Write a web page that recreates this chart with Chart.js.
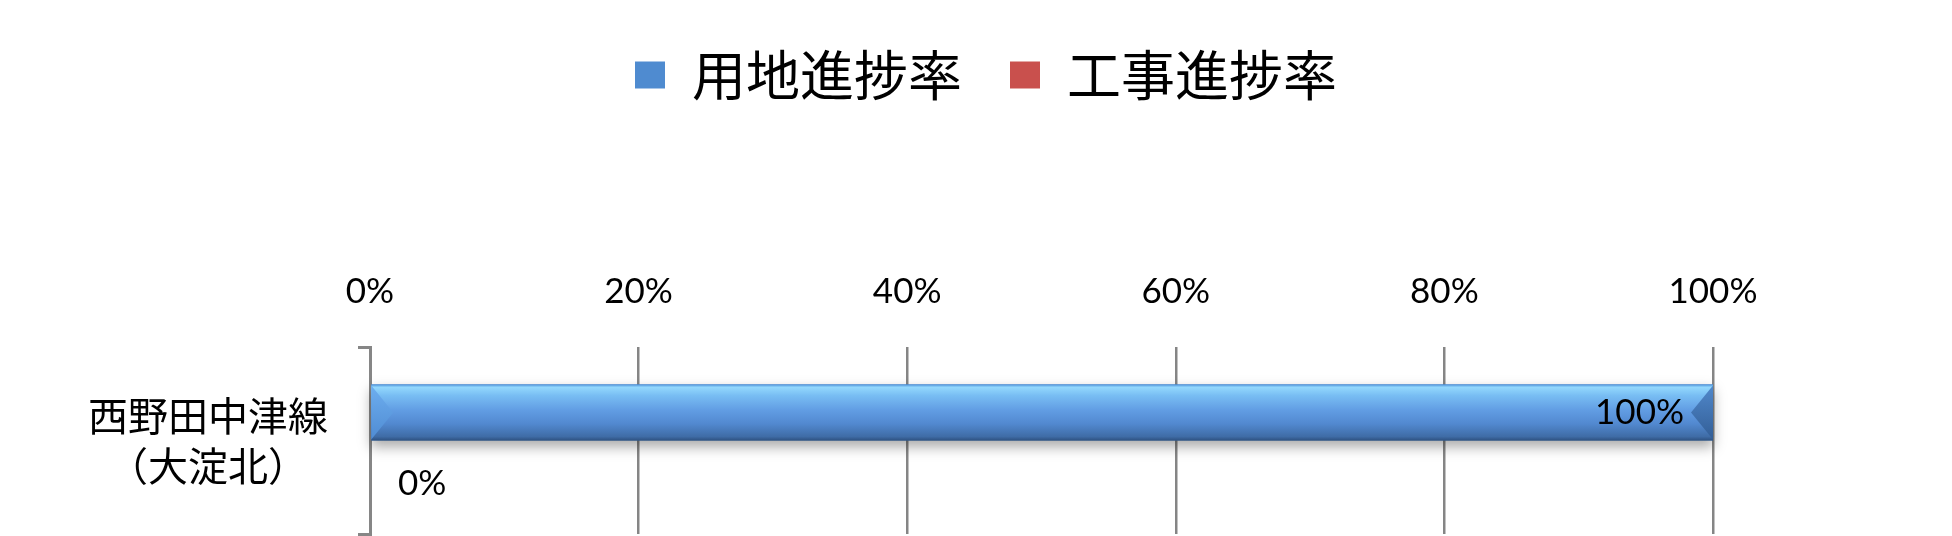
<!DOCTYPE html>
<html>
<head>
<meta charset="utf-8">
<script src="https://cdn.jsdelivr.net/npm/chart.js@4.4.1/dist/chart.umd.min.js"></script>
<style>
  html, body { margin: 0; background: #fff; }
  #wrap { width: 1952px; height: 536px; }
</style>
</head>
<body>
<div id="wrap"><canvas id="progressChart"></canvas></div>
<script>
const categories = [['西野田中津線', '（大淀北）']];
const seriesNames = ['用地進捗率', '工事進捗率'];
const landProgress = [100];
const worksProgress = [0];
const tickValues = [0, 20, 40, 60, 80, 100];

// body gradient stops, then left facet and right facet colours
const shades = [
  { body: ['#4b8fd9', '#93d8fd', '#78bdf3', '#629ee4', '#5289d0', '#3f6ca6', '#2e5180'],
    left: ['#6eaff0', '#4f8bd2'], right: ['#5189cc', '#325d95'] },
  { body: ['#d45a56', '#fba6a3', '#f08783', '#dc625e', '#c9524e', '#a53f3c', '#7a2826'],
    left: ['#f08985', '#cf5753'], right: ['#cd5551', '#933532'] }
];

// paints the bevelled gradient look over each bar the library laid out
const barStyle = {
  id: 'barStyle',
  afterDatasetDraw(chart, args) {
    const ctx = chart.ctx;
    const s = shades[args.index];
    args.meta.data.forEach(bar => {
      const p = bar.getProps(['x', 'y', 'base', 'height'], true);
      const left = Math.min(p.x, p.base), right = Math.max(p.x, p.base);
      const w = right - left;
      if (w < 1) return;
      const top = p.y - p.height / 2, bot = p.y + p.height / 2, mid = p.y;
      ctx.save();
      ctx.shadowColor = 'rgba(0,0,0,0.33)';
      ctx.shadowBlur = 12;
      ctx.shadowOffsetY = 6;
      const g = ctx.createLinearGradient(0, top, 0, bot);
      const stops = [0, 0.05, 0.2, 0.45, 0.7, 0.93, 1];
      stops.forEach((st, k) => g.addColorStop(st, s.body[k]));
      ctx.fillStyle = g;
      ctx.fillRect(left, top, w, p.height);
      ctx.restore();

      const bev = Math.min(22, w / 2);
      ctx.save();
      let f = ctx.createLinearGradient(0, top, 0, bot);
      f.addColorStop(0, s.left[0]); f.addColorStop(1, s.left[1]);
      ctx.fillStyle = f;
      ctx.beginPath();
      ctx.moveTo(left, top + 1); ctx.lineTo(left + bev, mid); ctx.lineTo(left, bot - 1);
      ctx.closePath(); ctx.fill();
      f = ctx.createLinearGradient(0, top, 0, bot);
      f.addColorStop(0, s.right[0]); f.addColorStop(1, s.right[1]);
      ctx.fillStyle = f;
      ctx.beginPath();
      ctx.moveTo(right, top + 1); ctx.lineTo(right - bev, mid); ctx.lineTo(right, bot - 1);
      ctx.closePath(); ctx.fill();
      ctx.restore();
    });
  }
};

const valueLabels = {
  id: 'valueLabels',
  afterDatasetsDraw(chart) {
    const ctx = chart.ctx;
    ctx.save();
    ctx.font = '35px Lato';
    ctx.fillStyle = '#000';
    ctx.textBaseline = 'middle';
    chart.data.datasets.forEach((ds, i) => {
      chart.getDatasetMeta(i).data.forEach((bar, j) => {
        const v = ds.data[j];
        const text = v + '%';
        if (v >= 50) {
          ctx.textAlign = 'right';
          ctx.fillText(text, bar.x - 29, bar.y);
        } else {
          ctx.textAlign = 'left';
          ctx.fillText(text, bar.x + 28, bar.y + 15);
        }
      });
    });
    ctx.restore();
  }
};

new Chart(document.getElementById('progressChart'), {
  type: 'bar',
  data: {
    labels: categories,
    datasets: [
      { label: seriesNames[0], data: landProgress, backgroundColor: '#4f8bd0', yAxisID: 'y' },
      { label: seriesNames[1], data: worksProgress, backgroundColor: '#c9504d', yAxisID: 'y' }
    ]
  },
  options: {
    indexAxis: 'y',
    responsive: true,
    maintainAspectRatio: false,
    animation: false,
    layout: { padding: { left: 20, right: 0, top: 0, bottom: 2 } },
    datasets: { bar: { categoryPercentage: 0.6, barPercentage: 1 } },
    plugins: {
      tooltip: { enabled: false },
      legend: {
        position: 'top',
        labels: {
          font: { family: 'Noto Sans CJK JP', size: 54 },
          color: '#000',
          boxWidth: 30,
          boxHeight: 27,
          padding: 48
        }
      }
    },
    scales: {
      x: {
        position: 'top',
        min: 0,
        max: 100,
        afterBuildTicks(scale) { scale.ticks = tickValues.map(v => ({ value: v })); },
        afterFit(scale) { scale.height = 235; },
        ticks: {
          callback: v => v + '%',
          font: { family: 'Lato', size: 35 },
          color: '#000',
          padding: 34
        },
        grid: { color: '#858585', lineWidth: 2.5, drawTicks: false },
        border: { display: false }
      },
      y: {
        position: 'left',
        afterFit(scale) {
          scale.width = 350;
          scale.paddingTop = 0;
          scale.paddingBottom = 0;
        },
        ticks: {
          font: { family: 'Noto Sans CJK JP', size: 40, lineHeight: 1.25 },
          color: '#000',
          padding: 30,
          crossAlign: 'center'
        },
        grid: { offset: true, drawOnChartArea: false, tickLength: 12, color: '#868686', lineWidth: 3 },
        border: { color: '#868686', width: 3 }
      },
      y2: {
        type: 'linear',
        position: 'right',
        afterFit(scale) { scale.width = 239; },
        grid: { display: false },
        border: { display: false },
        ticks: { display: false }
      }
    }
  },
  plugins: [barStyle, valueLabels]
});
</script>
</body>
</html>
